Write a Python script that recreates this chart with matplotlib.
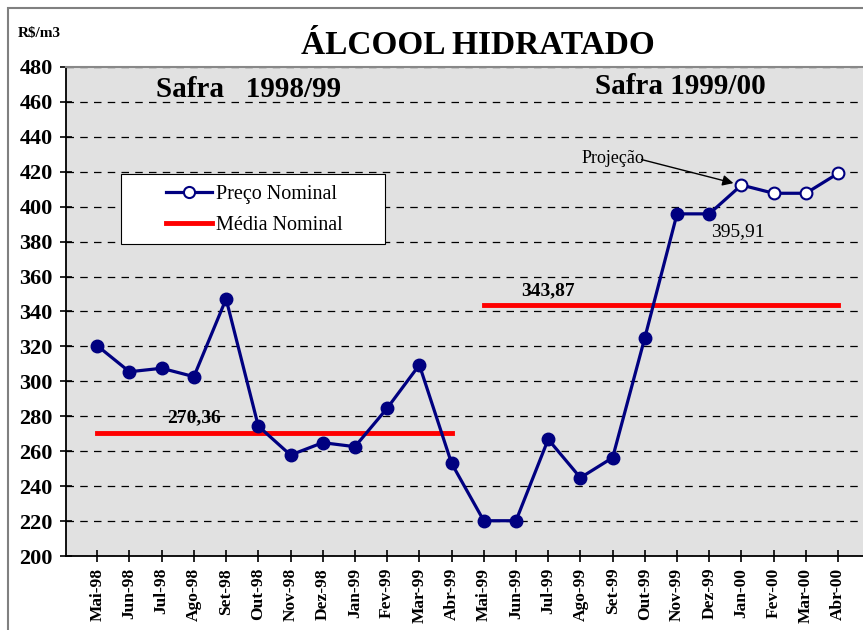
import matplotlib
matplotlib.use("Agg")
import matplotlib.pyplot as plt
from matplotlib.patches import Rectangle
from matplotlib.lines import Line2D

# monthly nominal price, R$/m3
MESES = ['Mai-98', 'Jun-98', 'Jul-98', 'Ago-98', 'Set-98', 'Out-98', 'Nov-98', 'Dez-98',
         'Jan-99', 'Fev-99', 'Mar-99', 'Abr-99', 'Mai-99', 'Jun-99', 'Jul-99', 'Ago-99',
         'Set-99', 'Out-99', 'Nov-99', 'Dez-99', 'Jan-00', 'Fev-00', 'Mar-00', 'Abr-00']
PRECO = [320.4, 305.5, 307.5, 302.7, 347.2, 274.4, 257.8, 264.9, 262.6, 284.6, 309.4, 253.1,
         220.2, 220.2, 266.8, 244.8, 256.3, 325.0, 395.91, 395.91, 412.4, 407.7, 407.7, 419.1]
N_PROJ = 4  # last points are projections (hollow markers)
MEDIA_98 = 270.36
MEDIA_99 = 343.87
YTICKS = list(range(200, 481, 20))

NAVY = '#000080'
SERIF = 'Liberation Serif'

fig = plt.figure(figsize=(8.63, 6.30), dpi=100)
ax = fig.add_axes([66 / 863, 1 - 556 / 630, 1 - 66 / 863 + 0.001, (556 - 67) / 630])
ax.set_facecolor('#e1e1e1')

xs = list(range(len(MESES)))
nf = len(PRECO) - N_PROJ
ax.plot(xs, PRECO, color=NAVY, linewidth=2.3, zorder=3)
ax.plot(xs[:nf], PRECO[:nf], linestyle='none', marker='o', markersize=9,
        color=NAVY, zorder=4)
ax.plot(xs[nf:], PRECO[nf:], linestyle='none', marker='o', markersize=8.5,
        markerfacecolor='white', markeredgecolor=NAVY, markeredgewidth=1.5, zorder=4)

ax.plot([0, 11], [MEDIA_98, MEDIA_98], color='red', linewidth=3.5, zorder=2)
ax.plot([12, 23], [MEDIA_99, MEDIA_99], color='red', linewidth=3.5, zorder=2)

ax.set_xlim(-0.97, 23.8)
ax.set_ylim(200, 480)
ax.set_yticks(YTICKS)
ax.set_yticklabels(YTICKS, fontfamily=SERIF, fontweight='bold', fontsize=16)
ax.set_xticks(xs)
ax.set_xticklabels(MESES, rotation=90, fontfamily=SERIF, fontweight='bold', fontsize=12.5)
ax.tick_params(axis='both', direction='inout', length=9, width=1.2, colors='black')
ax.tick_params(axis='x', pad=4)
ax.tick_params(axis='y', pad=5)
ax.grid(axis='y', color='black', linestyle=(0, (6, 5)), linewidth=0.9)
ax.set_axisbelow(True)
for s in ['left', 'bottom']:
    ax.spines[s].set_linewidth(1.3)
ax.spines['top'].set_color('#888888')
ax.spines['top'].set_linewidth(1.5)
ax.spines['right'].set_visible(False)

# texts
ax.text(4.7, 467, 'Safra   1998/99', ha='center', va='center', fontfamily=SERIF,
        fontweight='bold', fontsize=21)
ax.text(18.1, 469, 'Safra 1999/00', ha='center', va='center', fontfamily=SERIF,
        fontweight='bold', fontsize=21)
ax.text(3.0, 279, '270,36', ha='center', va='center', fontfamily=SERIF, fontweight='bold', fontsize=14)
ax.text(14.0, 352, '343,87', ha='center', va='center', fontfamily=SERIF, fontweight='bold', fontsize=14)
ax.text(19.9, 386, '395,91', ha='center', va='center', fontfamily=SERIF, fontsize=14)
ax.text(16.0, 427.5, 'Projeção', ha='center', va='center', fontfamily=SERIF, fontsize=13)
ax.annotate('', xy=(19.75, 413.5), xytext=(16.9, 427.0),
            arrowprops=dict(arrowstyle='-|>', color='black', lw=1, mutation_scale=16,
                            shrinkA=0, shrinkB=0))

fig.text(478 / 863, 1 - 45 / 630, 'ÁLCOOL HIDRATADO', ha='center', va='center',
         fontfamily=SERIF, fontweight='bold', fontsize=24)
fig.text(18 / 863, 1 - 33 / 630, 'R$/m3', ha='left', va='center',
         fontfamily=SERIF, fontweight='bold', fontsize=11)

# legend: box drawn separately, entries centred inside
ax.add_patch(Rectangle(((121 - 66) / 797, 1 - (244 - 67) / 489), (385 - 121) / 797, 70 / 489,
                       transform=ax.transAxes, facecolor='white', edgecolor='black',
                       linewidth=0.8, zorder=6))
handles = [Line2D([], [], color=NAVY, linewidth=2.3, marker='o', markersize=8,
                  markerfacecolor='white', markeredgecolor=NAVY, markeredgewidth=1.5),
           Line2D([], [], color='red', linewidth=3.5)]
leg = ax.legend(handles, ['Preço Nominal', 'Média Nominal'], loc='upper left',
                bbox_to_anchor=((166 - 66) / 797, 1 - (185 - 67) / 489),
                prop={'family': SERIF, 'size': 14.5}, frameon=False,
                handlelength=2.3, handletextpad=0.2,
                borderpad=0, labelspacing=0.6, borderaxespad=0)
leg.set_zorder(7)

# outer chart frame
fig.patches.append(Rectangle((7.5 / 863, -0.05), 1.2, 1 - 8 / 630 + 0.05,
                             transform=fig.transFigure, fill=False,
                             edgecolor='#808080', linewidth=1.5, zorder=0))

fig.savefig('out.png', dpi=100)
